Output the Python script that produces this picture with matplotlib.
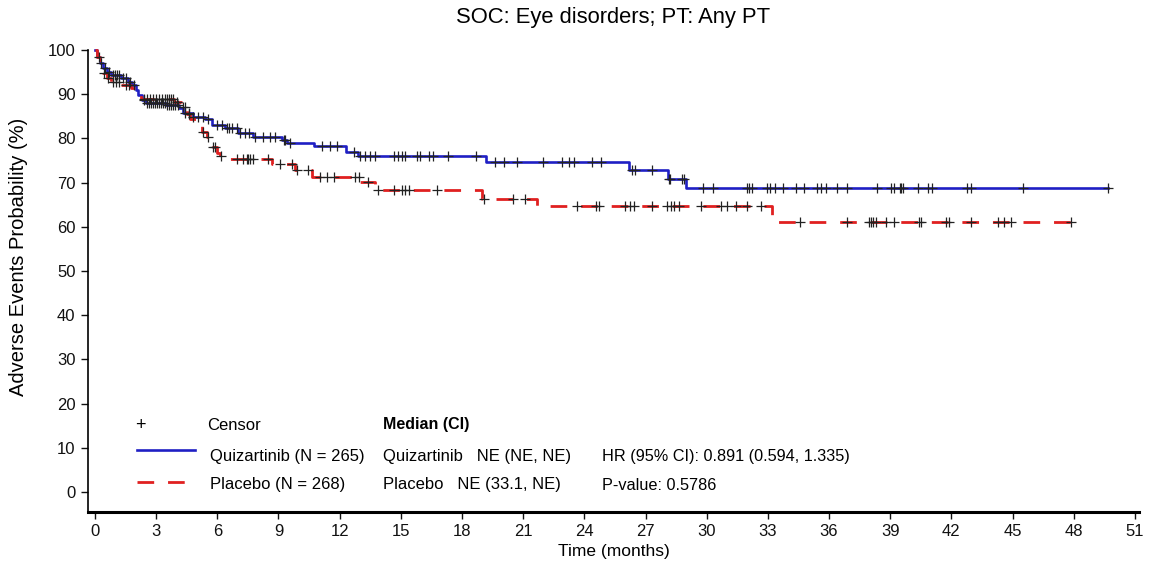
import numpy as np
import matplotlib
matplotlib.use("Agg")
import matplotlib.pyplot as plt

plt.rcParams['font.family'] = ['Liberation Sans', 'DejaVu Sans']

# ---------------- data ----------------
title = "SOC: Eye disorders; PT: Any PT"
xlabel = "Time (months)"
ylabel = "Adverse Events Probability (%)"
xticks = list(range(0, 52, 3))
yticks = list(range(0, 101, 10))

quiz_time = [0, 0.10, 0.25, 0.40, 0.60, 0.80, 1.30, 1.60, 1.80, 2.00, 2.10, 2.30, 2.50,
             3.50, 4.10, 4.30, 4.80, 5.40, 5.73, 6.38, 7.03, 7.77, 9.17, 9.40, 10.72,
             12.30, 12.90, 19.20, 26.20, 28.10, 29.00]
quiz_surv = [100, 98.5, 97.0, 95.9, 95.0, 94.3, 93.6, 92.8, 92.1, 91.0, 89.8, 88.8, 88.0,
             87.6, 86.8, 85.7, 84.9, 84.5, 83.0, 82.3, 81.3, 80.4, 79.6, 79.0, 78.2,
             77.0, 76.0, 74.6, 72.9, 70.9, 68.7]
quiz_end = 49.67
quiz_censor = [0.3, 0.5, 0.7, 0.9, 1.0, 1.1, 1.2, 1.4, 1.5, 1.7, 1.9, 2.4, 2.55, 2.65, 2.75,
               2.85, 2.95, 3.05, 3.15, 3.25, 3.35, 3.45, 3.55, 3.65, 3.75, 3.85, 3.95, 4.05,
               4.4, 4.6, 4.83, 5.07, 5.32, 5.56, 5.97, 6.22, 6.47, 6.59, 6.71, 6.96, 7.12,
               7.36, 7.57, 7.85, 8.23, 8.59, 8.84, 9.25, 9.33, 9.57, 11.13, 11.54, 11.87,
               12.7, 13.0, 13.25, 13.5, 13.75, 14.65, 14.84, 15.06, 15.2, 15.8, 15.95,
               16.36, 16.58, 17.3, 18.7, 19.64, 20.05, 20.7, 21.98, 22.9, 23.24, 23.5,
               24.4, 24.8, 26.35, 26.5, 27.3, 28.15, 28.2, 28.8, 28.9, 29.8, 30.3, 31.96,
               32.07, 32.24, 32.97, 33.1, 33.33, 33.76, 34.36, 34.77, 35.43, 35.6, 35.84,
               36.41, 36.9, 38.37, 39.03, 39.19, 39.49, 39.55, 39.65, 40.34, 40.83, 41.03,
               42.76, 42.96, 45.5, 49.67]

plac_time = [0, 0.10, 0.23, 0.39, 0.60, 0.80, 1.29, 1.78, 2.11, 2.27, 3.90, 4.20, 4.50,
             4.66, 5.10, 5.24, 5.48, 5.65, 5.80, 5.97, 6.14, 6.30, 8.67, 9.82, 10.64,
             13.00, 13.75, 19.00, 21.70, 33.20]
plac_surv = [100, 98.4, 96.6, 94.7, 93.6, 92.8, 92.1, 91.3, 90.6, 89.0, 88.3, 87.0, 85.5,
             84.5, 83.0, 81.5, 80.4, 79.3, 78.1, 76.6, 76.0, 75.4, 74.3, 72.8, 71.3,
             70.1, 68.3, 66.4, 64.7, 61.0]
plac_end = 47.87
plac_censor = [0.2, 0.45, 0.65, 0.9, 1.05, 1.2, 1.5, 1.65, 2.4, 2.55, 2.7, 2.85, 3.0, 3.15,
               3.3, 3.45, 3.55, 3.65, 3.75, 3.85, 4.0, 4.3, 4.4, 4.6, 5.3, 5.55, 5.8, 5.9,
               6.2, 6.96, 7.28, 7.45, 7.53, 7.61, 7.77, 8.51, 9.08, 9.66, 9.9, 10.47, 11.05,
               11.37, 11.7, 12.76, 12.93, 13.4, 13.86, 14.65, 15.06, 15.22, 15.38, 16.77,
               19.06, 20.5, 21.1, 23.65, 24.55, 24.7, 26.0, 26.26, 26.43, 27.33, 28.07,
               28.23, 28.4, 28.64, 29.7, 30.68, 31.0, 31.42, 32.0, 32.65, 34.58, 36.9,
               37.96, 38.08, 38.18, 38.29, 38.78, 39.19, 40.42, 40.5, 41.73, 41.9, 42.96,
               44.27, 44.6, 44.92, 47.87]

quiz_label = "Quizartinib (N = 265)"
plac_label = "Placebo (N = 268)"
median_head = "Median (CI)"
quiz_median = "Quizartinib   NE (NE, NE)"
plac_median = "Placebo   NE (33.1, NE)"
hr_text = "HR (95% CI): 0.891 (0.594, 1.335)"
p_text = "P-value: 0.5786"

BLUE = "#1f1fc4"
RED = "#e02020"
CENS = "#222222"


def step_value(times, surv, x):
    idx = np.searchsorted(np.asarray(times), np.asarray(x), side='right') - 1
    return np.asarray(surv)[idx]


W, H = 1154, 565
fig = plt.figure(figsize=(W / 100, H / 100), dpi=100)
ax = fig.add_axes([88 / W, 1 - 512 / H, (1139 - 88) / W, (512 - 50) / H])

# curves
ax.step(quiz_time + [quiz_end], quiz_surv + [quiz_surv[-1]], where='post',
        color=BLUE, lw=1.9, clip_on=False, zorder=3)
ax.step(plac_time + [plac_end], plac_surv + [plac_surv[-1]], where='post',
        color=RED, lw=2.0, dashes=(6, 5), clip_on=False, zorder=3)

# censor marks
ax.plot(quiz_censor, step_value(quiz_time, quiz_surv, quiz_censor), ls='none',
        marker='+', ms=7.5, mew=0.9, color=CENS, clip_on=False, zorder=4)
ax.plot(plac_censor, step_value(plac_time, plac_surv, plac_censor), ls='none',
        marker='+', ms=7.5, mew=0.9, color=CENS, clip_on=False, zorder=4)

ax.set_xlim(-0.34, 51.2)
ax.set_ylim(-4.5, 100)
ax.set_xticks(xticks)
ax.set_yticks(yticks)
ax.tick_params(axis='both', direction='out', length=5, width=1, labelsize=12,
               colors='#111111', pad=4)
for s in ['top', 'right']:
    ax.spines[s].set_visible(False)
ax.spines['left'].set_linewidth(1.2)
ax.spines['bottom'].set_linewidth(2.2)

ax.set_xlabel(xlabel, fontsize=12.5, labelpad=3)
fig.text(19 / W, 1 - 257 / H, ylabel, rotation=90, ha='center', va='center', fontsize=14.5)
fig.text(613 / W, 1 - 18 / H, title, ha='center', va='center', fontsize=15.8)


# legend block (figure pixel positions)
def ft(x, y, s, size=12, **kw):
    fig.text(x / W, 1 - y / H, s, va='center', ha='left', fontsize=size, **kw)


ft(135, 425, "+", size=13)
ft(207, 425, "Censor")
ft(383, 425, median_head, size=11.5, fontweight='bold')
fig.add_artist(plt.Line2D([137 / W, 195 / W], [1 - 450 / H, 1 - 450 / H], color=BLUE, lw=1.9))
fig.add_artist(plt.Line2D([137 / W, 195 / W], [1 - 482 / H, 1 - 482 / H], color=RED, lw=2.0,
                          dashes=(6, 5)))
ft(210, 456, quiz_label)
ft(383, 456, quiz_median)
ft(602, 456, hr_text, size=11.7)
ft(210, 485, plac_label)
ft(383, 485, plac_median)
ft(602, 485, p_text, size=11.7)

fig.savefig("out.png", dpi=100)
